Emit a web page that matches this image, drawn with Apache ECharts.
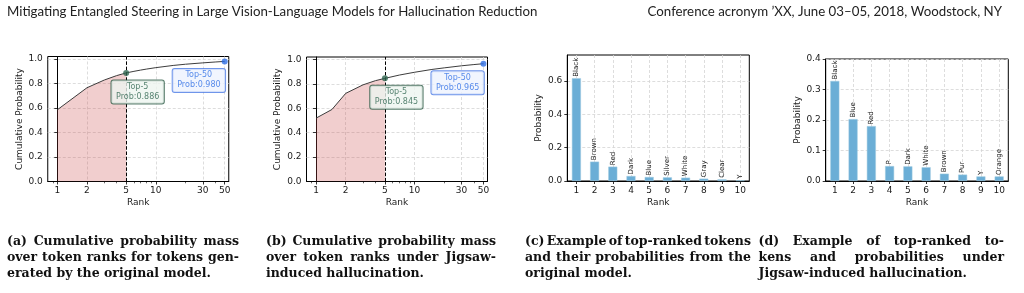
<!DOCTYPE html>
<html>
<head>
<meta charset="UTF-8">
<title>Token rank probability</title>
<script src="https://cdn.jsdelivr.net/npm/echarts@6/dist/echarts.min.js"></script>
<style>
    html, body { margin: 0; padding: 0; background: #fff; }
    #chart { width: 1024px; height: 293px; }
</style>
</head>
<body>
<div id="chart"></div>
<script type="text/javascript">

    // (a) cumulative probability, original model
    var ranksA = [1, 2, 3, 4, 5, 6, 7, 8, 10, 15, 20, 30, 40, 50];
    var cumA = [0.585, 0.765, 0.828, 0.864, 0.886, 0.899, 0.909, 0.917, 0.929, 0.947, 0.957, 0.968, 0.975, 0.980];

    // (b) cumulative probability, Jigsaw-induced hallucination
    var ranksB = [1, 1.45, 2, 3, 4, 5, 7, 10, 15, 20, 30, 40, 50];
    var cumB = [0.519, 0.59, 0.722, 0.792, 0.826, 0.845, 0.872, 0.895, 0.918, 0.931, 0.948, 0.958, 0.965];

    var rankTicks = [1, 2, 5, 10, 30, 50];
    var rankMinorTicks = [0.9, 3, 4, 6, 7, 8, 9, 20, 40];
    var cumTicks = [0, 0.2, 0.4, 0.6, 0.8, 1.0];
    var topK = [5, 50];

    // (c) and (d) top-10 tokens
    var barRanks = [1, 2, 3, 4, 5, 6, 7, 8, 9, 10];
    var tokensC = ['Black', 'Brown', 'Red', 'Dark', 'Blue', 'Silver', 'White', 'Gray', 'Clear', 'Y'];
    var probC = [0.616, 0.116, 0.086, 0.030, 0.024, 0.022, 0.020, 0.014, 0.010, 0.004];
    var tokensD = ['Black', 'Blue', 'Red', 'P', 'Dark', 'White', 'Brown', 'Pur', 'Y', 'Orange'];
    var probD = [0.328, 0.203, 0.180, 0.049, 0.048, 0.045, 0.024, 0.021, 0.015, 0.015];
    var probTicksC = [0, 0.2, 0.4, 0.6];
    var probTicksD = [0, 0.1, 0.2, 0.3, 0.4];

    var headerLeft = 'Mitigating Entangled Steering in Large Vision-Language Models for Hallucination Reduction';
    var headerRight = 'Conference acronym \u2019XX, June 03\u201305, 2018, Woodstock, NY';
    var captions = [
        ['(a) Cumulative probability mass', 'over token ranks for tokens gen-', 'erated by the original model.'],
        ['(b) Cumulative probability mass', 'over token ranks under Jigsaw-', 'induced hallucination.'],
        ['(c) Example of top-ranked tokens', 'and their probabilities from the', 'original model.'],
        ['(d) Example of top-ranked to-', 'kens and probabilities under', 'Jigsaw-induced hallucination.']
    ];

    var FONT = 'DejaVu Sans';
    var INK = '#1a1a1a';
    var GREEN = '#2f6650';
    var BLUE = '#2f6fe6';

    function lg(v) {
        return Math.log10(v);
    }

    var gridLine = {show: true, lineStyle: {color: '#d4d4d4', width: 0.8, type: [3, 2]}};
    var spine = {show: true, lineStyle: {color: '#000', width: 1}};

    function rankAxis(gridIndex) {
        return {
            type: 'value', gridIndex: gridIndex, position: 'bottom',
            min: lg(0.8), max: lg(55),
            name: 'Rank', nameLocation: 'middle', nameGap: 17, nameMoveOverlap: false,
            nameTextStyle: {fontFamily: FONT, fontSize: 9, color: INK},
            axisLine: spine,
            axisTick: {show: true, length: 3, lineStyle: {color: '#000', width: 0.8}, customValues: rankTicks.map(lg)},
            axisLabel: {
                customValues: rankTicks.map(lg), margin: 5,
                fontFamily: FONT, fontSize: 9, color: INK,
                formatter: function (v) {
                    return Math.round(Math.pow(10, v)) + '';
                }
            },
            splitLine: gridLine
        };
    }

    function minorRankAxis(gridIndex) {
        return {
            type: 'value', gridIndex: gridIndex, position: 'bottom',
            min: lg(0.8), max: lg(55),
            axisLine: {show: false},
            axisTick: {show: true, length: 1.8, lineStyle: {color: '#000', width: 0.6}, customValues: rankMinorTicks.map(lg)},
            axisLabel: {show: false},
            splitLine: {show: false}
        };
    }

    function barRankAxis(gridIndex) {
        return {
            type: 'value', gridIndex: gridIndex, position: 'bottom',
            min: 0.5, max: 10.5,
            name: 'Rank', nameLocation: 'middle', nameGap: 17, nameMoveOverlap: false,
            nameTextStyle: {fontFamily: FONT, fontSize: 9, color: INK},
            axisLine: spine,
            axisTick: {show: true, length: 3, lineStyle: {color: '#000', width: 0.8}, customValues: barRanks},
            axisLabel: {customValues: barRanks, margin: 5, fontFamily: FONT, fontSize: 9, color: INK},
            splitLine: gridLine
        };
    }

    function probAxis(gridIndex, name, max, ticks, gap) {
        return {
            type: 'value', gridIndex: gridIndex,
            min: 0, max: max,
            name: name, nameLocation: 'middle', nameGap: gap, nameMoveOverlap: false,
            nameTextStyle: {fontFamily: FONT, fontSize: 9, color: INK},
            axisLine: spine,
            axisTick: {show: true, length: 3, lineStyle: {color: '#000', width: 0.8}, customValues: ticks},
            axisLabel: {
                customValues: ticks, margin: 5,
                fontFamily: FONT, fontSize: 9, color: INK,
                formatter: function (v) {
                    return v.toFixed(1);
                }
            },
            splitLine: gridLine
        };
    }

    function boxGrid(left, top, width, height) {
        return {
            left: left, top: top, width: width, height: height,
            show: true, borderColor: '#000', borderWidth: 1, backgroundColor: 'transparent',
            containLabel: false, outerBoundsMode: 'none'
        };
    }

    // curve + shaded top-5 area + marked points with boxes
    function cumSeries(xi, yi, ranks, cum) {
        var pts = ranks.map(function (r, i) {
            return [lg(r), cum[i]];
        });
        var shaded = pts.filter(function (p, i) {
            return ranks[i] <= topK[0];
        });
        var marks = topK.map(function (k, j) {
            var c = j === 0 ? GREEN : BLUE;
            return {
                name: 'Top-' + k,
                value: [lg(k), cum[ranks.indexOf(k)]],
                itemStyle: {color: c},
                label: {
                    color: c,
                    borderColor: j === 0 ? '#2f5e48' : '#4b7be5',
                    backgroundColor: j === 0 ? '#eef5f0' : '#eef3fe',
                    offset: j === 0 ? [11.5, 19] : [-25.8, 19]
                }
            };
        });
        return [
            {
                type: 'line', xAxisIndex: xi, yAxisIndex: yi, data: shaded,
                symbol: 'none', lineStyle: {width: 0},
                areaStyle: {color: 'rgba(205,80,80,0.4)', origin: 'start'},
                silent: true, z: 1
            },
            {
                type: 'line', xAxisIndex: xi, yAxisIndex: yi, data: pts,
                symbol: 'none', lineStyle: {color: '#3d3d3d', width: 1},
                silent: true, z: 3,
                markLine: {
                    symbol: 'none', silent: true, label: {show: false},
                    lineStyle: {color: '#000', width: 1, type: [3.5, 1.8]},
                    data: [{xAxis: lg(topK[0])}]
                }
            },
            {
                type: 'scatter', xAxisIndex: xi, yAxisIndex: yi, data: marks,
                symbolSize: 6, silent: true, z: 5,
                label: {
                    show: true, position: 'inside',
                    fontFamily: FONT, fontSize: 8, lineHeight: 10,
                    padding: [1.5, 4.5], borderWidth: 1, borderRadius: 2,
                    formatter: function (p) {
                        return p.name + '\nProb:' + p.value[1].toFixed(3);
                    }
                }
            }
        ];
    }

    function barSeries(xi, yi, probs, tokens) {
        return {
            type: 'bar', xAxisIndex: xi, yAxisIndex: yi,
            data: barRanks.map(function (r, i) {
                return [r, probs[i]];
            }),
            barWidth: 9, silent: true, z: 3,
            itemStyle: {color: '#6baed6', borderColor: '#9ecae1', borderWidth: 0.5},
            label: {
                show: true, position: 'top', rotate: 90, align: 'left', verticalAlign: 'middle',
                distance: 1.5, fontFamily: FONT, fontSize: 7, color: INK,
                formatter: function (p) {
                    return tokens[p.dataIndex];
                }
            }
        };
    }

    // text measuring for the page header and the justified captions
    var measureCtx = document.createElement('canvas').getContext('2d');

    function textWidth(str, font) {
        measureCtx.font = font;
        return measureCtx.measureText(str).width;
    }

    var capFamily = 'DejaVu Serif';
    var capSize = 204 / textWidth(captions[0][2], 'bold 100px "' + capFamily + '"') * 100;
    var headFamily = 'Lato';
    var headSize = 531 / textWidth(headerLeft, '100px "' + headFamily + '"') * 100;

    function captionLine(str, x, y, width, justify) {
        var font = 'bold ' + capSize + 'px "' + capFamily + '"';
        var style = function (t) {
            return {
                text: t, fontFamily: capFamily, fontWeight: 'bold', fontSize: capSize,
                fill: '#111', align: 'left', verticalAlign: 'middle'
            };
        };
        if (!justify) {
            return [{type: 'text', x: x, y: y, style: style(str)}];
        }
        var words = str.split(' ');
        var used = 0;
        words.forEach(function (w) {
            used += textWidth(w, font);
        });
        var gap = Math.max((width - used) / (words.length - 1), 0.15 * capSize);
        var out = [];
        var cx = x;
        words.forEach(function (w) {
            out.push({type: 'text', x: cx, y: y, style: style(w)});
            cx += textWidth(w, font) + gap;
        });
        return out;
    }

    var capCols = [[7, 232], [266, 230], [525, 226], [758.5, 245.5]];
    var capRows = [241.5, 257.5, 273.5];
    var graphics = [
        {type: 'text', x: 7, y: 11.7, style: {text: headerLeft, fontFamily: headFamily, fontSize: headSize, fill: '#222', align: 'left', verticalAlign: 'middle'}},
        {type: 'text', x: 1002, y: 11.7, style: {text: headerRight, fontFamily: headFamily, fontSize: headSize, fill: '#222', align: 'right', verticalAlign: 'middle'}}
    ];
    captions.forEach(function (lines, c) {
        lines.forEach(function (line, r) {
            graphics = graphics.concat(captionLine(line, capCols[c][0], capRows[r], capCols[c][1], r < lines.length - 1));
        });
    });

    var myChart = echarts.init(document.getElementById('chart'), null, {renderer: 'canvas'});

    myChart.setOption({
        animation: false,
        backgroundColor: '#fff',
        textStyle: {fontFamily: FONT},
        grid: [
            boxGrid(47.75, 56.5, 181, 125),
            boxGrid(306.5, 57, 181, 124.5),
            boxGrid(567.3, 55, 182, 126),
            boxGrid(825.7, 59, 182.6, 122)
        ],
        xAxis: [
            rankAxis(0), minorRankAxis(0),
            rankAxis(1), minorRankAxis(1),
            barRankAxis(2), barRankAxis(3)
        ],
        yAxis: [
            probAxis(0, 'Cumulative Probability', 1.02, cumTicks, 24),
            probAxis(1, 'Cumulative Probability', 1.02, cumTicks, 24),
            probAxis(2, 'Probability', 0.755, probTicksC, 24),
            probAxis(3, 'Probability', 0.4, probTicksD, 24)
        ],
        series: []
            .concat(cumSeries(0, 0, ranksA, cumA))
            .concat(cumSeries(2, 1, ranksB, cumB))
            .concat([barSeries(4, 2, probC, tokensC), barSeries(5, 3, probD, tokensD)]),
        graphic: graphics
    });
</script>
</body>
</html>
